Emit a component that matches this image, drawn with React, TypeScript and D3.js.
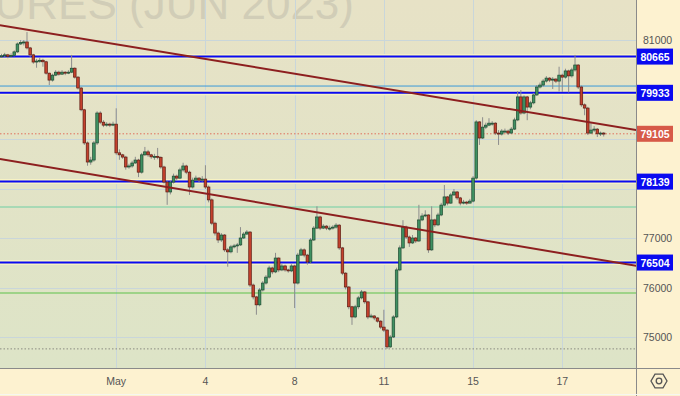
import React from 'react';
import * as d3 from 'd3';

// hourly candles, open = previous close
const firstOpen = 80660;
const closes = [
  80680, 80700, 80670, 80690, 80760, 80920, 80950, 80960, 80840, 80700,
  80555, 80575, 80590, 80560, 80330, 80190, 80290, 80350, 80310, 80350,
  80330, 80350, 80430, 80250, 80030, 79590, 78920, 78535, 78575, 78920,
  79525, 79340, 79280, 79300, 79280, 79300, 78720, 78680, 78635, 78435,
  78455, 78515, 78575, 78330, 78680, 78740, 78680, 78640, 78650, 78630,
  78435, 78130, 77930, 78130, 78250, 78210, 78375, 78455, 78330, 78030,
  78170, 78210, 78170, 78190, 78030, 77770, 77300, 77100, 76960, 77060,
  76760, 76720, 76820, 76840, 76860, 77000, 77080, 77120, 76050, 75810,
  75650, 75950, 76090, 76210, 76395, 76315, 76595, 76355, 76435, 76355,
  76335, 76435, 76090, 76655, 76760, 76655, 76515, 76960, 77200, 77425,
  77200, 77240, 77200, 77200, 77220, 77260, 76800, 76290, 76010, 75610,
  75405, 75610, 75790, 75910, 75710, 75405, 75425, 75385, 75320, 75200,
  75140, 74800, 75000, 75405, 76355, 76800, 77220, 77020, 76900, 77000,
  76940, 77365, 77445, 77465, 76760, 77365, 77265, 77465, 77665, 77830,
  77705, 77870, 77930, 77810, 77705, 77725, 77705, 77745, 78210, 79345,
  79020, 79240, 79280, 79320, 79320, 79120, 79100, 79160, 79160, 79120,
  79200, 79385, 79850, 79525, 79850, 79645, 79730, 79890, 80050, 80090,
  80170, 80230, 80190, 80210, 80170, 80290, 80250, 80375, 80275, 80395,
  80495, 80050, 79690, 79625, 79120, 79180, 79200, 79105, 79120, 79105,
];
const highs = [
  80720, 80740, 80720, 80730, 80790, 80950, 81000, 81000, 81160, 80860,
  80720, 80620, 80640, 80620, 80580, 80340, 80320, 80390, 80380, 80390,
  80370, 80390, 80700, 80450, 80270, 80050, 79610, 78950, 78640, 78960,
  79560, 79560, 79380, 79340, 79330, 79350, 79620, 78790, 78700, 78660,
  78500, 78560, 78640, 78600, 78720, 78840, 78780, 78700, 78700, 78820,
  78650, 78460, 78150, 78160, 78300, 78280, 78420, 78520, 78480, 78360,
  78220, 78260, 78230, 78250, 78470, 78060, 77800, 77330, 77130, 77100,
  77080, 76800, 76860, 76880, 76900, 77220, 77120, 77160, 77140, 76080,
  75830, 75990, 76130, 76250, 76440, 76420, 76700, 76610, 76480, 76460,
  76380, 76470, 76460, 76700, 76800, 76790, 76680, 77000, 77240, 77640,
  77450, 77280, 77260, 77250, 77260, 77300, 77280, 76820, 76310, 76030,
  75630, 75650, 75830, 75950, 75930, 75730, 75470, 75440, 75400, 75340,
  75550, 75160, 75040, 75440, 76400, 76850, 77360, 77250, 77050, 77060,
  77020, 77670, 77500, 77560, 77480, 77640, 77390, 77510, 77710, 78070,
  77850, 77910, 77990, 77950, 77830, 77770, 77750, 77790, 78250, 79380,
  79360, 79440, 79330, 79420, 79360, 79340, 79180, 79200, 79210, 79190,
  79240, 79430, 79970, 79990, 79880, 79870, 79770, 79930, 80090, 80140,
  80210, 80270, 80250, 80250, 80230, 80460, 80320, 80420, 80400, 80440,
  80700, 80510, 80080, 79720, 79650, 79330, 79260, 79220, 79150, 79140,
];
const lows = [
  80640, 80650, 80630, 80650, 80670, 80740, 80900, 80890, 80810, 80660,
  80520, 80440, 80540, 80460, 80300, 80090, 80160, 80270, 80280, 80300,
  80290, 80310, 80330, 80220, 80000, 79560, 78880, 78460, 78480, 78540,
  78880, 79300, 79240, 79250, 79240, 79260, 78680, 78580, 78600, 78380,
  78400, 78420, 78500, 78230, 78300, 78660, 78640, 78600, 78580, 78590,
  78400, 78100, 77670, 77880, 78100, 78160, 78190, 78340, 78290, 77870,
  78000, 78150, 78130, 78140, 77990, 77720, 77260, 77050, 76900, 76920,
  76720, 76420, 76690, 76790, 76700, 76840, 76980, 77060, 76010, 75760,
  75450, 75620, 75920, 76060, 76180, 76270, 76290, 76310, 76330, 76320,
  76300, 76310, 75585, 76060, 76640, 76610, 76460, 76480, 76940, 77180,
  77160, 77180, 77160, 77150, 77170, 77190, 76760, 76250, 75960, 75560,
  75245, 75380, 75560, 75760, 75670, 75360, 75380, 75340, 75290, 75160,
  75100, 74760, 74780, 74980, 75380, 76330, 76780, 76980, 76820, 76880,
  76900, 76920, 77340, 77420, 76700, 76740, 77220, 77240, 77440, 77640,
  77660, 77690, 77850, 77770, 77660, 77680, 77670, 77700, 77720, 78180,
  78880, 79000, 79200, 79260, 79270, 79080, 78880, 79070, 79120, 79080,
  79100, 79180, 79360, 79490, 79500, 79380, 79600, 79700, 79870, 80020,
  80060, 80140, 80150, 80010, 80130, 79960, 79950, 80220, 79940, 80240,
  80360, 80010, 79650, 79480, 79080, 79100, 79140, 79040, 79060, 79050,
];

const dateTicks = [36, 64, 92, 120, 148, 176];
const dateLabels = ['May', '4', '8', '11', '15', '17'];
const priceTicks = [75000, 76000, 77000, 78000, 79000, 80000, 81000];

const levels = [80665, 79933, 78139, 76504];
const lightBlueLevels = [80070];
const greenLevels = [77626, 75889];
const lastPrice = 79105;
const periodLow = 74760;

// trend lines as [candle index, price]
const trendUpper: [number, number][] = [[-0.5, 81300], [199.5, 79180]];
const trendLower: [number, number][] = [[-0.5, 78596], [199.5, 76434]];

const W = 680;
const H = 396;
const plotR = 636;
const plotB = 368;
const font = "'Liberation Sans', Arial, sans-serif";

export default function App() {
  const x = d3.scaleLinear().domain([0, closes.length - 1]).range([1.5, 603.7]);
  const y = d3.scaleLinear().domain([75000, 81000]).range([337, 40]);
  const line = d3.line<[number, number]>().x(d => x(d[0])).y(d => y(d[1]));

  const candles = closes.map((c, i) => {
    const o = i === 0 ? firstOpen : closes[i - 1];
    return { i, o, c, h: highs[i], l: lows[i] };
  });

  // axis labels hidden behind the price boxes are skipped
  const boxed = [...levels, lastPrice];
  const freeTicks = priceTicks.filter(t => boxed.every(v => Math.abs(y(t) - y(v)) > 13));

  const hex = d3.range(6).map(k => {
    const a = (Math.PI / 3) * k;
    return [659 + 8 * Math.cos(a), 381 + 8 * Math.sin(a)];
  });

  return (
    <div style={{ position: 'fixed', left: 0, top: 0 }}>
      <svg width={W} height={H} style={{ display: 'block', fontFamily: font }}>
        <defs>
          <linearGradient id="bg" x1="0" y1="0" x2="0" y2="1">
            <stop offset="0%" stopColor="#e7e2c6" />
            <stop offset="100%" stopColor="#dde4c7" />
          </linearGradient>
          <clipPath id="plot">
            <rect x={0} y={0} width={plotR} height={plotB} />
          </clipPath>
        </defs>

        <rect x={0} y={0} width={W} height={H} fill="#fdf2d0" />
        <rect x={0} y={0} width={plotR} height={plotB} fill="url(#bg)" />

        <g clipPath="url(#plot)">
          {/* watermark */}
          <text x={354} y={19} textAnchor="end" fontSize={44} fill="#d1cdb7"
            fontFamily={font}>FUTURES (JUN 2023)</text>

          {/* grid */}
          {priceTicks.map(t => (
            <line key={t} x1={0} x2={plotR} y1={Math.round(y(t)) + 0.5} y2={Math.round(y(t)) + 0.5}
              stroke="#c9d6da" strokeWidth={1} />
          ))}
          {dateTicks.map(t => (
            <line key={t} x1={Math.round(x(t)) + 0.5} x2={Math.round(x(t)) + 0.5} y1={0} y2={plotB}
              stroke="#c9d6da" strokeWidth={1} />
          ))}

          {/* thin levels */}
          {lightBlueLevels.map(v => (
            <line key={v} x1={0} x2={plotR} y1={y(v)} y2={y(v)} stroke="#3a9ad9" strokeWidth={1} />
          ))}
          {greenLevels.map((v, k) => (
            <line key={v} x1={0} x2={plotR} y1={y(v)} y2={y(v)}
              stroke={k === 0 ? '#6fd0a4' : '#5ec24a'} strokeWidth={1.2} />
          ))}
          <line x1={0} x2={plotR} y1={y(lastPrice)} y2={y(lastPrice)} stroke="#e0705c"
            strokeWidth={1} strokeDasharray="1.5 2" />
          <line x1={0} x2={plotR} y1={y(periodLow)} y2={y(periodLow)} stroke="#8a8a80"
            strokeWidth={1} strokeDasharray="1.5 2" />

          {/* horizontal levels */}
          {levels.map(v => (
            <g key={v}>
              <line x1={0} x2={plotR} y1={y(v)} y2={y(v)} stroke="#f7f2c4" strokeWidth={5} />
              <line x1={0} x2={plotR} y1={y(v)} y2={y(v)} stroke="#0a0af0" strokeWidth={2} />
            </g>
          ))}

          {/* candles */}
          {candles.map(d => {
            const up = d.c >= d.o;
            const top = y(Math.max(d.o, d.c));
            const bot = y(Math.min(d.o, d.c));
            const cx = x(d.i);
            return (
              <g key={d.i}>
                <line x1={cx} x2={cx} y1={y(d.h)} y2={y(d.l)} stroke="#8c8c8c" strokeWidth={1} />
                <rect x={cx - 1.3} y={top} width={2.6} height={Math.max(1, bot - top)}
                  fill={up ? '#3f9162' : '#c4412d'} stroke={up ? '#1d4a31' : '#5c1b12'}
                  strokeWidth={0.7} />
              </g>
            );
          })}

          {/* trend lines */}
          <path d={line(trendUpper) || ''} fill="none" stroke="#8d1f1f" strokeWidth={2} />
          <path d={line(trendLower) || ''} fill="none" stroke="#8d1f1f" strokeWidth={2} />
        </g>

        {/* axis borders */}
        <line x1={plotR + 0.5} x2={plotR + 0.5} y1={0} y2={H} stroke="#8a8a8a" strokeWidth={1} />
        <line x1={0} x2={W} y1={plotB + 0.5} y2={plotB + 0.5} stroke="#8a8a8a" strokeWidth={1} />
        <line x1={0} x2={W} y1={H - 1.5} y2={H - 1.5} stroke="#f6f6f0" strokeWidth={1} />

        {/* price axis */}
        {freeTicks.map(t => (
          <text key={t} x={643} y={y(t) + 4} fontSize={10.5} fill="#555">{t}</text>
        ))}
        {levels.map(v => (
          <g key={v}>
            <rect x={plotR + 1} y={y(v) - 8} width={36} height={16} fill="#0a0af0" />
            <text x={plotR + 19} y={y(v) + 4} textAnchor="middle" fontSize={10.5}
              fontWeight="bold" fill="#fff">{v}</text>
          </g>
        ))}
        <rect x={plotR + 1} y={y(lastPrice) - 8} width={36} height={16} fill="#d75a48" />
        <text x={plotR + 19} y={y(lastPrice) + 4} textAnchor="middle" fontSize={10.5}
          fontWeight="bold" fill="#fff">{lastPrice}</text>

        {/* time axis */}
        {dateTicks.map((t, k) => (
          <text key={t} x={x(t)} y={385} textAnchor="middle" fontSize={10.5} fill="#555">
            {dateLabels[k]}
          </text>
        ))}

        {/* settings icon */}
        <polygon points={hex.map(p => p.join(',')).join(' ')} fill="none" stroke="#555" strokeWidth={1.3} />
        <circle cx={659} cy={381} r={2.8} fill="none" stroke="#555" strokeWidth={1.3} />
      </svg>
    </div>
  );
}
